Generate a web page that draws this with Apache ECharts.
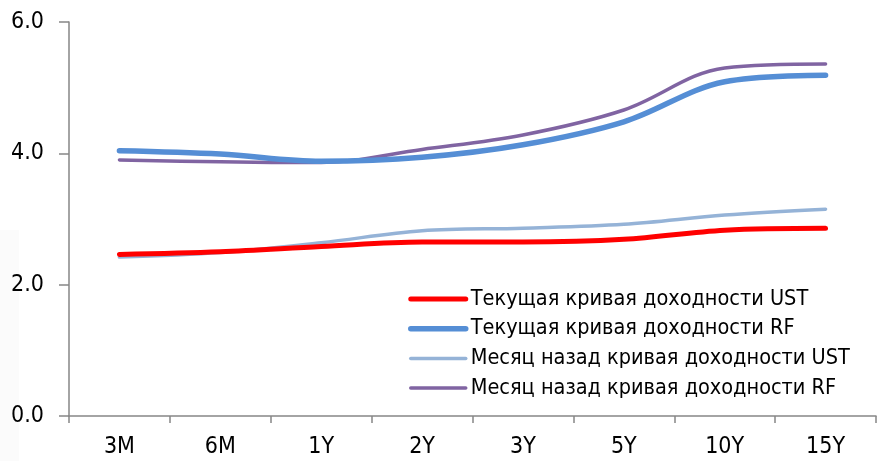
<!DOCTYPE html>
<html>
<head>
<meta charset="utf-8">
<script src="https://cdn.jsdelivr.net/npm/echarts@6/dist/echarts.min.js"></script>
<style>
  html, body { margin: 0; padding: 0; background: #ffffff; }
  #chart { width: 877px; height: 461px; }
</style>
</head>
<body>
<div id="chart"></div>
<script>
// Tenors along the curve
const tenors = ['3M', '6M', '1Y', '2Y', '3Y', '5Y', '10Y', '15Y'];

// Yields, %
const ustNow   = [2.46, 2.50, 2.58, 2.65, 2.65, 2.69, 2.83, 2.86];
const rfNow    = [4.04, 3.99, 3.88, 3.94, 4.13, 4.48, 5.09, 5.19];
const ustMonth = [2.42, 2.49, 2.64, 2.82, 2.86, 2.92, 3.06, 3.15];
const rfMonth  = [3.90, 3.87, 3.86, 4.06, 4.28, 4.66, 5.30, 5.36];

const seriesNames = [
  'Текущая кривая доходности UST',
  'Текущая кривая доходности RF',
  'Месяц назад кривая доходности UST',
  'Месяц назад кривая доходности RF'
];

// Y axis ticks
const yMin = 0, yMax = 6, yStep = 2;

const FONT = '"Liberation Sans Narrow", "DejaVu Sans Condensed", "Liberation Sans", sans-serif';

const styles = [
  { color: '#ff0000', width: 5 },
  { color: '#558ed5', width: 5.5 },
  { color: '#95b3d7', width: 3.5 },
  { color: '#8064a2', width: 3.5 }
];

function curve(name, data, st, z) {
  return {
    name: name,
    type: 'line',
    data: data,
    smooth: 0.35,
    showSymbol: false,
    symbol: 'none',
    z: z,
    lineStyle: { color: st.color, width: st.width, cap: 'round', join: 'round' },
    itemStyle: { color: st.color }
  };
}

const chart = echarts.init(document.getElementById('chart'), null, { renderer: 'canvas' });
chart.setOption({
  animation: false,
  backgroundColor: '#ffffff',
  graphic: [{
    type: 'rect', left: 0, top: 230, z: -10, silent: true,
    shape: { width: 19, height: 231 },
    style: { fill: '#fbfbfb' }
  }],
  grid: { left: 69, right: 1, top: 22, bottom: 45, containLabel: false },
  legend: {
    orient: 'vertical',
    left: 408,
    top: 286,
    padding: 0,
    itemWidth: 55,
    itemHeight: 10,
    itemGap: 3.7,
    itemStyle: { opacity: 0 },
    data: seriesNames.map((n, i) => ({
      name: n,
      lineStyle: { color: styles[i].color, width: styles[i].width, cap: 'round' }
    })),
    textStyle: { fontFamily: FONT, fontSize: 21.5, lineHeight: 26, color: '#000000' }
  },
  xAxis: {
    type: 'category',
    data: tenors,
    boundaryGap: true,
    axisLine: { lineStyle: { color: '#868686', width: 1.5 } },
    axisTick: { show: true, length: 7, inside: false, lineStyle: { color: '#868686', width: 1.5 } },
    axisLabel: { fontFamily: FONT, fontSize: 23, color: '#000000', margin: 20 },
    splitLine: { show: false }
  },
  yAxis: {
    type: 'value',
    min: yMin, max: yMax, interval: yStep,
    axisLine: { show: true, lineStyle: { color: '#868686', width: 1.5 } },
    axisTick: { show: true, length: 10, inside: false, lineStyle: { color: '#868686', width: 1.5 } },
    axisLabel: {
      fontFamily: FONT, fontSize: 23, color: '#000000', margin: 25,
      formatter: v => v.toFixed(1)
    },
    splitLine: { show: false }
  },
  series: [
    curve(seriesNames[0], ustNow,   styles[0], 4),
    curve(seriesNames[1], rfNow,    styles[1], 3),
    curve(seriesNames[2], ustMonth, styles[2], 2),
    curve(seriesNames[3], rfMonth,  styles[3], 1)
  ]
});
</script>
</body>
</html>
